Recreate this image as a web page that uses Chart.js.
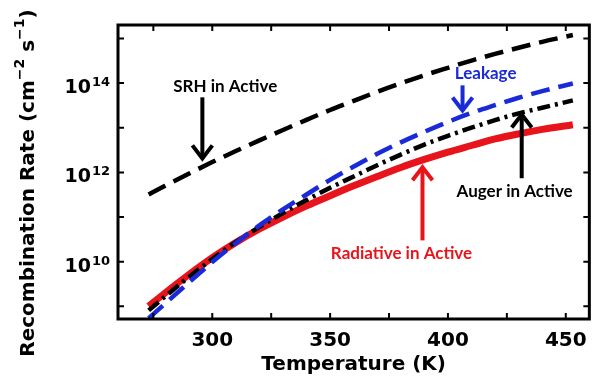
<!DOCTYPE html>
<html>
<head>
<meta charset="utf-8">
<script src="https://cdn.jsdelivr.net/npm/chart.js@4"></script>
<style>
  html, body { margin: 0; padding: 0; background: #fff; }
  #wrap { width: 597px; height: 377px; }
</style>
</head>
<body>
<div id="wrap"><canvas id="c" width="597" height="377"></canvas></div>
<script>
// ------------------------------------------------------------
//  Datos (T en K, tasa en cm^-2 s^-1)
// ------------------------------------------------------------
const temps     = [273, 280, 290, 300, 310, 320, 330, 340, 350, 360, 370, 380, 390, 400, 410, 420, 430, 440, 453]

const srh       = [3.2e11, 5.0e11, 9.3e11, 1.7e12, 3.0e12, 5.2e12, 8.9e12, 1.5e13, 2.5e13, 4.0e13,
                   6.4e13, 9.9e13, 1.5e14, 2.2e14, 3.2e14, 4.5e14, 6.2e14, 8.4e14, 1.19e15]
const leakage   = [5.4e8, 1.15e9, 3.4e9, 9.8e9, 2.6e10, 6.5e10, 1.48e11, 3.2e11, 6.8e11, 1.35e12,
                   2.6e12, 4.7e12, 8.1e12, 1.35e13, 2.15e13, 3.2e13, 4.7e13, 6.6e13, 9.8e13]
const auger     = [8.1e8, 1.66e9, 4.5e9, 1.15e10, 2.75e10, 6.0e10, 1.23e11, 2.4e11, 4.5e11, 8.1e11,
                   1.45e12, 2.5e12, 4.2e12, 6.6e12, 1.0e13, 1.48e13, 2.1e13, 2.8e13, 4.1e13]
const radiative = [1.0e9, 2.0e9, 5.1e9, 1.23e10, 2.7e10, 5.4e10, 1.0e11, 1.78e11, 3.0e11, 5.0e11,
                   8.1e11, 1.29e12, 1.95e12, 2.85e12, 4.0e12, 5.6e12, 7.3e12, 9.2e12, 1.17e13]

const xTicks       = [275, 300, 325, 350, 375, 400, 425, 450]
const xTickLabels  = [300, 350, 400, 450]
const yDecades     = [9, 10, 11, 12, 13, 14, 15]
const yLabelExps   = [10, 12, 14]

// anotaciones en coordenadas de datos (texto + flecha)
const notes = [
    { text: 'SRH in Active',       color: '#000000', tx: 305.5, ty: 8.3e13, ax: 295.8, from: 4.8e13, tip: 1.86e12 },
    { text: 'Leakage',             color: '#1a2ad8', tx: 416,   ty: 1.6e14, ax: 406.2, from: 8.9e13, tip: 2.2e13 },
    { text: 'Auger in Active',     color: '#000000', tx: 428.3, ty: 3.7e11, ax: 431.3, from: 7.4e11, tip: 2.2e13 },
    { text: 'Radiative in Active', color: '#e8141c', tx: 380.3, ty: 1.55e10, ax: 389.2, from: 3.0e10, tip: 1.45e12 },
]

const pts = vals => temps.map((t, i) => ({ x: t, y: vals[i] }))

// ------------------------------------------------------------
//  Marco, ticks hacia adentro, etiquetas 10^n, título Y y flechas
// ------------------------------------------------------------
const overlay = {
    id: 'overlay',
    afterDraw(chart) {
    const { ctx, chartArea: a, scales: { x, y } } = chart
    ctx.save()

    // ticks hacia adentro
    ctx.strokeStyle = '#000'
    ctx.lineWidth = 2
    ctx.beginPath()
    xTicks.forEach(v => {
        const px = x.getPixelForValue(v)
        ctx.moveTo(px, a.bottom); ctx.lineTo(px, a.bottom - 6)
        ctx.moveTo(px, a.top);    ctx.lineTo(px, a.top + 6)
    })
    yDecades.forEach(e => {
        const py = y.getPixelForValue(Math.pow(10, e))
        ctx.moveTo(a.left, py);  ctx.lineTo(a.left + 6, py)
        ctx.moveTo(a.right, py); ctx.lineTo(a.right - 6, py)
    })
    ctx.stroke()

    // marco
    ctx.lineWidth = 3
    ctx.strokeRect(a.left, a.top, a.right - a.left, a.bottom - a.top)

    // etiquetas del eje Y con superíndice
    ctx.fillStyle = '#000'
    ctx.textBaseline = 'alphabetic'
    yLabelExps.forEach(e => {
        const py = y.getPixelForValue(Math.pow(10, e))
        const right = a.left - 8
        ctx.font = 'bold 13px "DejaVu Sans"'
        ctx.textAlign = 'right'
        const w2 = ctx.measureText(String(e)).width
        ctx.fillText(String(e), right, py + 3)
        ctx.font = 'bold 19px "DejaVu Sans"'
        ctx.fillText('10', right - w2 - 1, py + 10)
    })

    // título del eje Y
    const parts = [
        ['Recombination Rate (cm', false], ['\u22122', true], [' s', false], ['\u22121', true], [')', false]
    ]
    const big = 'bold 20px "DejaVu Sans"', small = 'bold 14px "DejaVu Sans"'
    let total = 0
    parts.forEach(([t, sup]) => { ctx.font = sup ? small : big; total += ctx.measureText(t).width })
    ctx.translate(27, (a.top + a.bottom) / 2 + 11)
    ctx.rotate(-Math.PI / 2)
    ctx.textAlign = 'left'
    let cx = -total / 2
    parts.forEach(([t, sup]) => {
        ctx.font = sup ? small : big
        ctx.fillText(t, cx, sup ? -3 : 7)
        cx += ctx.measureText(t).width
    })
    ctx.restore()

    // anotaciones
    ctx.save()
    notes.forEach(n => {
        const px = x.getPixelForValue(n.ax)
        const y0 = y.getPixelForValue(n.from)
        const y1 = y.getPixelForValue(n.tip)
        const dir = y1 > y0 ? 1 : -1
        ctx.strokeStyle = n.color
        ctx.lineWidth = 4
        ctx.lineCap = 'butt'
        ctx.beginPath()
        ctx.moveTo(px, y0); ctx.lineTo(px, y1 - dir * 2)
        ctx.stroke()
        ctx.lineJoin = 'miter'
        ctx.beginPath()
        ctx.moveTo(px - 10, y1 - dir * 15)
        ctx.lineTo(px, y1 - dir * 2)
        ctx.lineTo(px + 10, y1 - dir * 15)
        ctx.stroke()

        ctx.fillStyle = n.color
        ctx.font = 'bold 17px Lato'
        ctx.textAlign = 'center'
        ctx.textBaseline = 'middle'
        ctx.fillText(n.text, x.getPixelForValue(n.tx), y.getPixelForValue(n.ty))
    })
    ctx.restore()
    }
}

// ------------------------------------------------------------
//  Gráfico
// ------------------------------------------------------------
new Chart(document.getElementById('c'), {
    type: 'line',
    data: {
    datasets: [
        { label: 'SRH in Active', data: pts(srh), borderColor: '#000', borderWidth: 4.5,
          borderDash: [19, 9], order: 1 },
        { label: 'Leakage', data: pts(leakage), borderColor: '#1a2ad8', borderWidth: 4.5,
          borderDash: [19, 9], order: 2 },
        { label: 'Auger in Active', data: pts(auger), borderColor: '#000', borderWidth: 4.5,
          borderDash: [13, 5, 3, 5], order: 3 },
        { label: 'Radiative in Active', data: pts(radiative), borderColor: '#e8141c', borderWidth: 7,
          order: 4 },
    ]
    },
    options: {
    responsive: false,
    animation: false,
    events: [],
    layout: { padding: { top: 25, right: 7, left: 0, bottom: 0 } },
    elements: {
        point: { radius: 0 },
        line:  { cubicInterpolationMode: 'monotone', fill: false, borderCapStyle: 'butt' }
    },
    plugins: { legend: { display: false }, tooltip: { enabled: false } },
    scales: {
        x: {
        type: 'linear',
        min: 260, max: 460,
        afterBuildTicks: s => { s.ticks = xTicks.map(v => ({ value: v })) },
        afterFit: s => { s.height = 58 },
        grid: { display: false, drawTicks: false },
        border: { display: false },
        ticks: {
            color: '#000', padding: 10,
            font: { family: 'DejaVu Sans', weight: 'bold', size: 20 },
            callback: v => xTickLabels.includes(v) ? String(v) : ''
        },
        title: {
            display: true, text: 'Temperature (K)', color: '#000',
            font: { family: 'DejaVu Sans', weight: 'bold', size: 20 },
            padding: { top: 0, bottom: 0 }
        }
        },
        y: {
        type: 'logarithmic',
        min: 5.2e8, max: 2.0e15,
        afterBuildTicks: s => { s.ticks = yDecades.map(e => ({ value: Math.pow(10, e) })) },
        afterFit: s => { s.width = 118 },
        grid: { display: false, drawTicks: false },
        border: { display: false },
        ticks: { display: false }
        }
    }
    },
    plugins: [overlay]
})
</script>
</body>
</html>
